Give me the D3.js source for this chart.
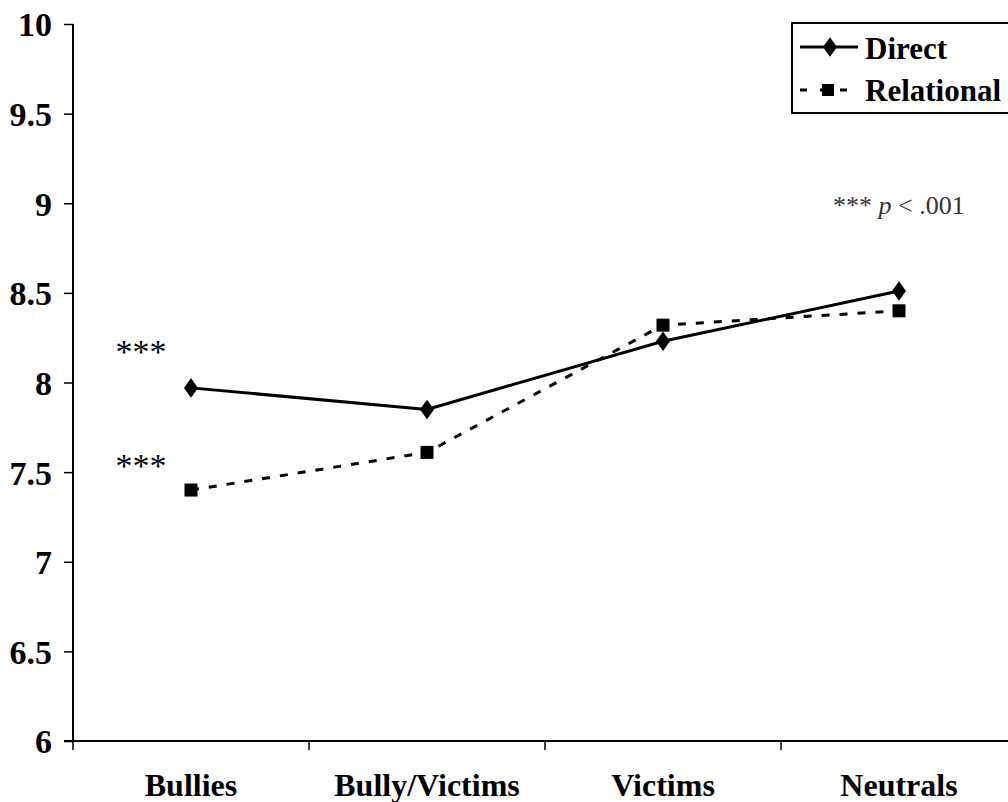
<!DOCTYPE html>
<html><head><meta charset="utf-8">
<script src="https://cdn.jsdelivr.net/npm/d3@7"></script>
<style>body{margin:0;background:#fff}svg{display:block}</style>
</head><body>
<svg id="c" width="1008" height="802"></svg>
<script>
const categories = ["Bullies", "Bully/Victims", "Victims", "Neutrals"];
const directValues = [7.97, 7.85, 8.23, 8.51];
const relationalValues = [7.40, 7.61, 8.32, 8.40];
const yTicks = [6, 6.5, 7, 7.5, 8, 8.5, 9, 9.5, 10];
const seriesNames = ["Direct", "Relational"];

(function(){
const svg = d3.select("#c");
const serif = "'Liberation Serif','Times New Roman',serif";
const mLeft = 73, mRight = 1017, mTop = 24, mBottom = 741;

const x = d3.scaleBand().domain(categories).range([mLeft, mRight]);
const y = d3.scaleLinear().domain([6, 10]).range([mBottom, mTop]);

// y axis
const ya = svg.append("g").attr("transform", `translate(${mLeft},0)`)
  .call(d3.axisLeft(y).tickValues(yTicks).tickSize(9).tickFormat(d => d3.format("")(d)));
ya.select(".domain").attr("stroke", "#000").attr("stroke-width", 2).attr("d", `M0,${mTop}V${mBottom}`);
ya.selectAll(".tick line").attr("stroke", "#000").attr("stroke-width", 1.5);
ya.selectAll(".tick text").attr("font-family", serif).attr("font-weight", "bold")
  .attr("font-size", 34).attr("fill", "#000").attr("x", -21).attr("dy", "0.35em");

// x axis
const xa = svg.append("g").attr("transform", `translate(0,${mBottom})`)
  .call(d3.axisBottom(x).tickSize(0));
xa.select(".domain").attr("stroke", "#000").attr("stroke-width", 2).attr("d", `M${mLeft - 9},0H${mRight}`);
xa.selectAll(".tick text").attr("font-family", serif).attr("font-weight", "bold")
  .attr("font-size", 32).attr("fill", "#000").attr("y", 55).attr("dy", null);
// band boundary ticks
const boundaries = categories.map(c => x(c)).concat([x(categories[categories.length-1]) + x.bandwidth()]);
svg.append("g").selectAll("line").data(boundaries).join("line")
  .attr("x1", d => d).attr("x2", d => d).attr("y1", mBottom).attr("y2", mBottom + 9)
  .attr("stroke", "#000").attr("stroke-width", 1.5);

const cx = c => x(c) + x.bandwidth() / 2;
const line = d3.line().x((d, i) => cx(categories[i])).y(d => y(d));

svg.append("path").datum(directValues).attr("d", line)
  .attr("fill", "none").attr("stroke", "#000").attr("stroke-width", 3);
svg.append("path").datum(relationalValues).attr("d", line)
  .attr("fill", "none").attr("stroke", "#000").attr("stroke-width", 3).attr("stroke-dasharray", "8,10");

const diamond = d3.symbol().type(d3.symbolDiamond).size(110);
svg.append("g").selectAll("path").data(directValues).join("path")
  .attr("d", diamond).attr("transform", (d, i) => `translate(${cx(categories[i])},${y(d)}) scale(1.25,1)`).attr("fill", "#000");
svg.append("g").selectAll("rect").data(relationalValues).join("rect")
  .attr("x", (d, i) => cx(categories[i]) - 6.5).attr("y", d => y(d) - 6.5)
  .attr("width", 13).attr("height", 13).attr("fill", "#000");

// significance marks
svg.append("text").attr("x", 141).attr("y", y(directValues[0]) - 25).attr("text-anchor", "middle")
  .attr("font-family", serif).attr("font-size", 34).attr("fill", "#000").text("***");
svg.append("text").attr("x", 141).attr("y", y(relationalValues[0]) - 13).attr("text-anchor", "middle")
  .attr("font-family", serif).attr("font-size", 34).attr("fill", "#000").text("***");

const note = svg.append("text").attr("x", 833).attr("y", 214)
  .attr("font-family", serif).attr("font-size", 26).attr("fill", "#333");
note.append("tspan").text("*** ");
note.append("tspan").attr("font-style", "italic").text("p");
note.append("tspan").text(" < .001");

// legend
const lg = svg.append("g");
lg.append("rect").attr("x", 792).attr("y", 23).attr("width", 230).attr("height", 90)
  .attr("fill", "#fff").attr("stroke", "#000").attr("stroke-width", 2);
lg.append("line").attr("x1", 800).attr("x2", 858).attr("y1", 47).attr("y2", 47)
  .attr("stroke", "#000").attr("stroke-width", 3);
lg.append("path").attr("d", diamond).attr("transform", "translate(830,47) scale(1.25,1)").attr("fill", "#000");
lg.append("line").attr("x1", 800).attr("x2", 858).attr("y1", 90).attr("y2", 90)
  .attr("stroke", "#000").attr("stroke-width", 3).attr("stroke-dasharray", "7,13");
lg.append("rect").attr("x", 822).attr("y", 84).attr("width", 12).attr("height", 12).attr("fill", "#000");
lg.selectAll("text.lt").data(seriesNames).join("text").attr("class", "lt")
  .attr("x", 865).attr("y", (d, i) => 59 + i * 42)
  .attr("font-family", serif).attr("font-weight", "bold").attr("font-size", 31).attr("fill", "#000").text(d => d);
})();
</script>
</body></html>
